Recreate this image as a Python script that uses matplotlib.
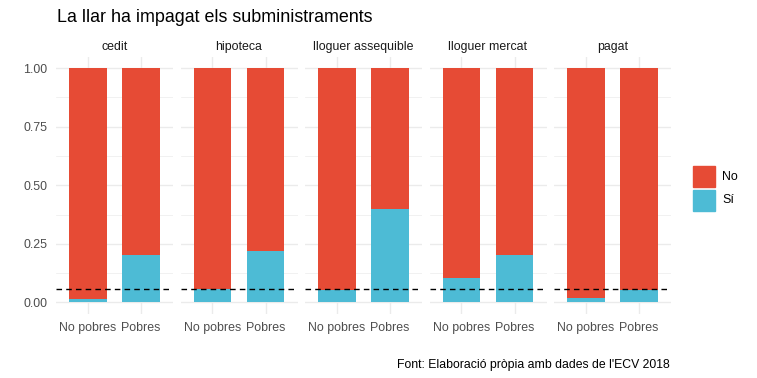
import matplotlib
matplotlib.use('Agg')
import matplotlib.pyplot as plt
from matplotlib.patches import Rectangle

plt.rcParams['font.family'] = ['Liberation Sans', 'DejaVu Sans']

# data
groups = ['cedit', 'hipoteca', 'lloguer assequible', 'lloguer mercat', 'pagat']
categories = ['No pobres', 'Pobres']
si_no_pobres = [0.013, 0.055, 0.053, 0.102, 0.018]
si_pobres = [0.200, 0.217, 0.400, 0.200, 0.053]
mitjana = 0.058

col_no = '#E64B35'
col_si = '#4DBBD5'
grid_col = '#EBEBEB'
txt_col = '#4D4D4D'

W, H = 757, 378
fig = plt.figure(figsize=(W / 100, H / 100), dpi=100)

panel_left = [56, 180.5, 305, 429.5, 554]
panel_w = 117
panel_top, panel_bot = 56.5, 314

for k, g in enumerate(groups):
    ax = fig.add_axes([panel_left[k] / W, (H - panel_bot) / H,
                       panel_w / W, (panel_bot - panel_top) / H])
    si = [si_no_pobres[k], si_pobres[k]]
    no = [1 - v for v in si]
    x = [1, 2]
    ax.bar(x, si, width=0.7, color=col_si, zorder=2)
    ax.bar(x, no, width=0.7, bottom=si, color=col_no, zorder=2)
    ax.axhline(mitjana, color='black', lw=1, ls=(0, (4, 3)), zorder=3)
    ax.set_xlim(0.4, 2.6)
    ax.set_ylim(-0.05, 1.05)
    ax.set_yticks([0, 0.25, 0.5, 0.75, 1.0])
    ax.set_yticks([0.125, 0.375, 0.625, 0.875], minor=True)
    ax.set_xticks(x)
    ax.set_xticklabels(categories)
    ax.grid(True, which='major', color=grid_col, lw=1.0, zorder=0)
    ax.grid(True, which='minor', axis='y', color=grid_col, lw=0.5, zorder=0)
    ax.set_axisbelow(True)
    for s in ax.spines.values():
        s.set_visible(False)
    ax.tick_params(which='both', length=0, colors=txt_col, labelsize=8.9)
    ax.tick_params(axis='x', pad=6)
    ax.tick_params(axis='y', pad=6)
    if k == 0:
        ax.set_yticklabels(['0.00', '0.25', '0.50', '0.75', '1.00'])
    else:
        ax.set_yticklabels([])
    ax.set_title(g, fontsize=8.9, color='#1A1A1A', pad=5)

fig.text(57 / W, 1 - 17 / H, 'La llar ha impagat els subministraments',
         fontsize=12.9, color='black', va='center', ha='left')
fig.text(670 / W, 1 - 365 / H, "Font: Elaboració pròpia amb dades de l'ECV 2018",
         fontsize=8.8, color='black', va='center', ha='right')

# legend
for i, (lab, c) in enumerate([('No', col_no), ('Sí', col_si)]):
    y0 = 166 + i * 23.5
    fig.patches.append(Rectangle((693 / W, 1 - (y0 + 21) / H), 21.5 / W, 21 / H,
                                 color=c, transform=fig.transFigure, figure=fig))
    fig.text(722 / W, 1 - (y0 + 10.5) / H, lab, fontsize=8.9, color='black',
             va='center', ha='left')

fig.savefig('out.png', dpi=100)
